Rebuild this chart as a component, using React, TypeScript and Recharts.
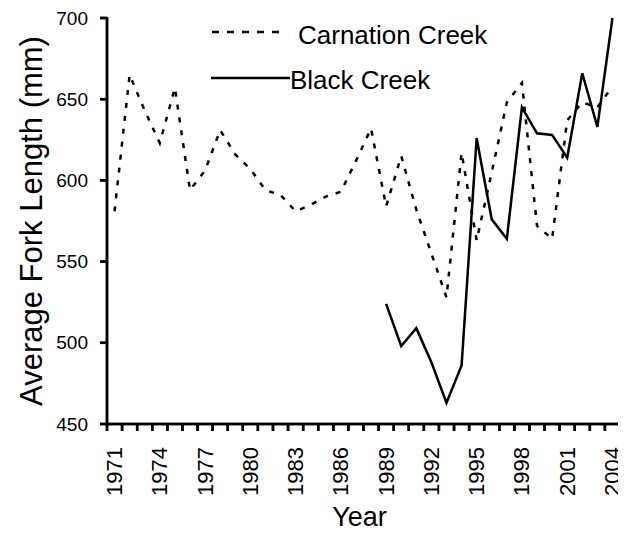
import React from 'react';
import { LineChart, Line, XAxis, YAxis } from 'recharts';

const years: number[] = [
  1971, 1972, 1973, 1974, 1975, 1976, 1977, 1978, 1979, 1980, 1981, 1982,
  1983, 1984, 1985, 1986, 1987, 1988, 1989, 1990, 1991, 1992, 1993, 1994,
  1995, 1996, 1997, 1998, 1999, 2000, 2001, 2002, 2003, 2004,
];

const carnationCreek: number[] = [
  581, 665, 643, 623, 657, 594, 606, 631, 616, 607, 594, 591,
  581, 585, 590, 593, 612, 632, 584, 615, 582, 555, 528, 617,
  563, 605, 648, 660, 572, 564, 637, 648, 645, 658,
];

const blackCreek: (number | null)[] = [
  null, null, null, null, null, null, null, null, null, null, null, null,
  null, null, null, null, null, null, 524, 498, 509, 488, 463, 486,
  626, 576, 564, 645, 629, 628, 614, 666, 633, 700,
];

const yTicks: number[] = [450, 500, 550, 600, 650, 700];
const yearLabelTicks: number[] = [1971, 1974, 1977, 1980, 1983, 1986, 1989, 1992, 1995, 1998, 2001, 2004];
const yearBoundaryTicks: number[] = [...years.map((y) => y - 0.5), years[years.length - 1] + 0.5];

const data = years.map((year, i) => ({
  year,
  carnation: carnationCreek[i],
  black: blackCreek[i],
}));

const FONT = '"Liberation Sans", Arial, Helvetica, sans-serif';
const AXIS_W = 2.5;
const X_MARK_LEN = 7;
const Y_MARK_LEN = 7;
const Y_MARK_GAP = 12;

const legendItems = [
  { name: 'Carnation Creek', dash: '7 8', lineX: 105, lineW: 72, textX: 191, lineY: 14, textY: 17 },
  { name: 'Black Creek', dash: undefined, lineX: 104, lineW: 79, textX: 183, lineY: 60, textY: 62 },
];

// x tick mark, pointing down from the axis at the tick coordinate
const XMarkTick = (props: any) => {
  const x = Number(props.x);
  const y = Number(props.y);
  return (
    <line x1={x} x2={x} y1={y - X_MARK_LEN} y2={y} stroke="#000" strokeWidth={AXIS_W} />
  );
};

const YearTick = (props: any) => {
  const { x, y, payload } = props;
  return (
    <text
      x={x}
      y={y}
      transform={`rotate(-90, ${x}, ${y})`}
      textAnchor="end"
      dominantBaseline="central"
      fontSize={22}
      fontFamily={FONT}
      fill="#000"
    >
      {payload.value}
    </text>
  );
};

const YTick = (props: any) => {
  const x = Number(props.x);
  const y = Number(props.y);
  return (
    <g>
      <line
        x1={x + Y_MARK_GAP}
        x2={x + Y_MARK_GAP + Y_MARK_LEN}
        y1={y}
        y2={y}
        stroke="#000"
        strokeWidth={AXIS_W}
      />
      <text
        x={x}
        y={y}
        textAnchor="end"
        dominantBaseline="central"
        fontSize={19}
        fontFamily={FONT}
        fill="#000"
      >
        {props.payload.value}
      </text>
    </g>
  );
};

// Y-axis line, title and in-plot legend, placed relative to the axis box
const renderYTitle = (props: any) => {
  const vb = props.viewBox || { x: 0, y: 0, width: 0, height: 0 };
  const cx = vb.x + 23;
  const cy = vb.y + vb.height / 2;
  const px = vb.x + vb.width;
  return (
    <g>
      <line
        x1={px}
        x2={px}
        y1={vb.y - 1}
        y2={vb.y + vb.height + 1}
        stroke="#000"
        strokeWidth={AXIS_W}
      />
      <text
        x={cx}
        y={cy}
        transform={`rotate(-90, ${cx}, ${cy})`}
        textAnchor="middle"
        dominantBaseline="central"
        fontSize={31}
        fontFamily={FONT}
        fill="#000"
      >
        Average Fork Length (mm)
      </text>
      {legendItems.map((item) => (
        <g key={item.name}>
          <line
            x1={px + item.lineX}
            x2={px + item.lineX + item.lineW}
            y1={vb.y + item.lineY}
            y2={vb.y + item.lineY}
            stroke="#000"
            strokeWidth={2.5}
            strokeDasharray={item.dash}
          />
          <text
            x={px + item.textX}
            y={vb.y + item.textY}
            dominantBaseline="central"
            fontSize={26}
            fontFamily={FONT}
            fill="#000"
          >
            {item.name}
          </text>
        </g>
      ))}
    </g>
  );
};

// X-axis baseline and title, placed relative to the label axis box (just below the tick-mark axis)
const renderXTitle = (props: any) => {
  const vb = props.viewBox || { x: 0, y: 0, width: 0, height: 0 };
  const axisY = vb.y - X_MARK_LEN;
  return (
    <g>
      <line
        x1={vb.x - 1}
        x2={vb.x + vb.width + 1}
        y1={axisY}
        y2={axisY}
        stroke="#000"
        strokeWidth={AXIS_W}
      />
      <text
        x={vb.x + vb.width / 2 - 4}
        y={vb.y + vb.height - 9}
        textAnchor="middle"
        fontSize={27}
        fontFamily={FONT}
        fill="#000"
      >
        Year
      </text>
    </g>
  );
};

export default function App() {
  return (
    <LineChart
      width={618}
      height={527}
      data={data}
      margin={{ top: 10, right: 6, left: 0, bottom: 0 }}
    >
      <XAxis
        dataKey="year"
        type="number"
        domain={[1970.5, 2004.5]}
        ticks={yearBoundaryTicks}
        interval={0}
        tick={<XMarkTick />}
        tickSize={X_MARK_LEN}
        tickMargin={0}
        height={X_MARK_LEN}
        stroke="#000"
        axisLine={{ stroke: '#000', strokeWidth: AXIS_W }}
        tickLine={{ stroke: '#000', strokeWidth: AXIS_W }}
        allowDecimals
      />
      <XAxis
        xAxisId="labels"
        dataKey="year"
        type="number"
        domain={[1970.5, 2004.5]}
        ticks={yearLabelTicks}
        interval={0}
        tick={<YearTick />}
        tickSize={0}
        tickMargin={16}
        height={104}
        axisLine={false}
        tickLine={false}
        label={{ content: renderXTitle }}
      />
      <YAxis
        type="number"
        domain={[450, 700]}
        ticks={yTicks}
        interval={0}
        width={99}
        tickSize={Y_MARK_LEN}
        tickMargin={Y_MARK_GAP}
        stroke="#000"
        axisLine={{ stroke: '#000', strokeWidth: AXIS_W }}
        tickLine={{ stroke: '#000', strokeWidth: AXIS_W }}
        tick={<YTick />}
        label={{ content: renderYTitle }}
      />
      <Line
        type="linear"
        dataKey="carnation"
        name="Carnation Creek"
        stroke="#000"
        strokeWidth={2.5}
        strokeDasharray="5 8"
        dot={false}
        isAnimationActive={false}
      />
      <Line
        type="linear"
        dataKey="black"
        name="Black Creek"
        stroke="#000"
        strokeWidth={2.5}
        dot={false}
        connectNulls={false}
        isAnimationActive={false}
      />
    </LineChart>
  );
}
